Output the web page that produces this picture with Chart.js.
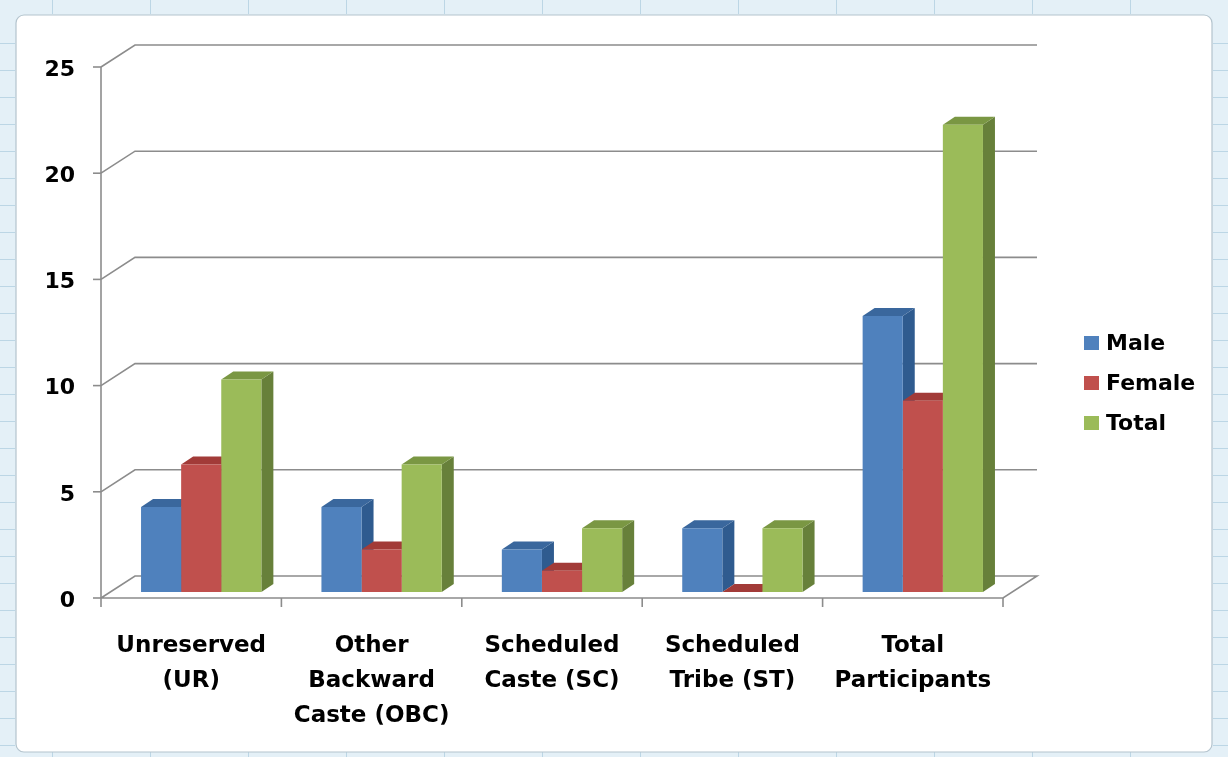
<!DOCTYPE html>
<html>
<head>
<meta charset="utf-8">
<script src="https://cdn.jsdelivr.net/npm/chart.js@4"></script>
<style>
    html, body { margin: 0; padding: 0; background: #e4f0f7; }
    #wrap { width: 1228px; height: 757px; }
</style>
</head>
<body>
<div id="wrap"><canvas id="casteChart" width="1228" height="757"></canvas></div>
<script>
// Datos del gráfico
const categories = [
    ['Unreserved', '(UR)'],
    ['Other', 'Backward', 'Caste (OBC)'],
    ['Scheduled', 'Caste (SC)'],
    ['Scheduled', 'Tribe (ST)'],
    ['Total', 'Participants']
];
const seriesNames = ['Male', 'Female', 'Total'];
const maleValues = [4, 4, 2, 3, 13];
const femaleValues = [6, 2, 1, 0, 9];
const totalValues = [10, 6, 3, 3, 22];
const yTicks = [0, 5, 10, 15, 20, 25];

(function () {
    // colores: cara frontal, lateral, superior
    const colors = [
        { front: '#4f81bd', side: '#2f5b8f', top: '#3a679d' },
        { front: '#c0504d', side: '#8e302d', top: '#a23b38' },
        { front: '#9bbb59', side: '#67803a', top: '#7a9743' }
    ];

    // desplazamientos de la perspectiva (plano de barras -> frente / fondo)
    const FRONT = { x: -10, y: 6 };
    const BACK = { x: 24, y: -16 };
    const BAR_DEPTH = { x: 12, y: -8 };
    const font = { family: 'DejaVu Sans', weight: 'bold', size: 22 };

    function poly(ctx, pts, fill) {
        ctx.beginPath();
        ctx.moveTo(pts[0][0], pts[0][1]);
        for (let i = 1; i < pts.length; i++) ctx.lineTo(pts[i][0], pts[i][1]);
        ctx.closePath();
        ctx.fillStyle = fill;
        ctx.fill();
    }

    const frame3d = {
        id: 'frame3d',
        beforeDraw(chart) {
            const ctx = chart.ctx;
            ctx.save();
            // fondo tipo hoja de cálculo
            ctx.fillStyle = '#e4f0f7';
            ctx.fillRect(0, 0, chart.width, chart.height);
            ctx.strokeStyle = '#bcd6e5';
            ctx.lineWidth = 1;
            for (let gx = 52; gx < chart.width; gx += 98) {
                ctx.beginPath(); ctx.moveTo(gx + 0.5, 0); ctx.lineTo(gx + 0.5, 14); ctx.stroke();
                ctx.beginPath(); ctx.moveTo(gx + 0.5, 752); ctx.lineTo(gx + 0.5, 757); ctx.stroke();
            }
            for (let gy = 43; gy < chart.height; gy += 27) {
                ctx.beginPath(); ctx.moveTo(0, gy + 0.5); ctx.lineTo(15, gy + 0.5); ctx.stroke();
                ctx.beginPath(); ctx.moveTo(1213, gy + 0.5); ctx.lineTo(1228, gy + 0.5); ctx.stroke();
            }
            // marco del gráfico
            ctx.beginPath();
            ctx.roundRect(16, 15, 1196, 737, 8);
            ctx.fillStyle = '#ffffff';
            ctx.fill();
            ctx.strokeStyle = '#b4c4ce';
            ctx.lineWidth = 1.2;
            ctx.stroke();
            ctx.restore();
        },
        beforeDatasetsDraw(chart) {
            const { ctx, chartArea: a, scales } = chart;
            const x = scales.x, y = scales.y;
            ctx.save();
            ctx.strokeStyle = '#8c8c8c';
            ctx.lineWidth = 1.6;

            // líneas de cuadrícula en la pared del fondo
            yTicks.forEach(v => {
                const py = y.getPixelForValue(v);
                const fx = a.left + FRONT.x, fy = py + FRONT.y;
                const bx = a.left + BACK.x, by = py + BACK.y;
                ctx.beginPath();
                ctx.moveTo(fx, fy);
                ctx.lineTo(bx, by);
                ctx.lineTo(a.right + BACK.x, by);
                if (v === 0) {
                    ctx.lineTo(a.right + FRONT.x, fy);
                    ctx.lineTo(fx, fy);
                }
                ctx.stroke();
                // marca del eje
                ctx.beginPath();
                ctx.moveTo(fx - 8, fy);
                ctx.lineTo(fx, fy);
                ctx.stroke();
            });

            // eje vertical frontal
            ctx.beginPath();
            ctx.moveTo(a.left + FRONT.x, y.getPixelForValue(yTicks[yTicks.length - 1]) + FRONT.y);
            ctx.lineTo(a.left + FRONT.x, y.getPixelForValue(0) + FRONT.y);
            ctx.stroke();

            // marcas entre categorías
            const baseY = y.getPixelForValue(0) + FRONT.y;
            for (let i = 0; i <= categories.length; i++) {
                const px = x.getPixelForValue(i - 0.5) + FRONT.x;
                ctx.beginPath();
                ctx.moveTo(px, baseY);
                ctx.lineTo(px, baseY + 9);
                ctx.stroke();
            }
            ctx.restore();

            // caras laterales y superiores de las barras
            ctx.save();
            for (let i = 0; i < categories.length; i++) {
                chart.data.datasets.forEach((ds, d) => {
                    const bar = chart.getDatasetMeta(d).data[i];
                    const l = bar.x - bar.width / 2, r = bar.x + bar.width / 2;
                    const t = bar.y, b = bar.base;
                    const c = colors[d];
                    poly(ctx, [[r, t], [r + BAR_DEPTH.x, t + BAR_DEPTH.y], [r + BAR_DEPTH.x, b + BAR_DEPTH.y], [r, b]], c.side);
                    poly(ctx, [[l, t], [r, t], [r + BAR_DEPTH.x, t + BAR_DEPTH.y], [l + BAR_DEPTH.x, t + BAR_DEPTH.y]], c.top);
                });
            }
            ctx.restore();
        },
        afterDraw(chart) {
            // leyenda
            const ctx = chart.ctx;
            ctx.save();
            ctx.font = `${font.weight} ${font.size}px "${font.family}"`;
            ctx.textBaseline = 'middle';
            ctx.fillStyle = '#000';
            chart.data.datasets.forEach((ds, d) => {
                const cy = 343 + d * 40;
                ctx.fillStyle = ds.backgroundColor;
                ctx.fillRect(1084, cy - 7, 15, 14);
                ctx.fillStyle = '#000';
                ctx.fillText(ds.label, 1106, cy + 1);
            });
            ctx.restore();
        }
    };

    const values = [maleValues, femaleValues, totalValues];

    new Chart(document.getElementById('casteChart'), {
        type: 'bar',
        data: {
            labels: categories,
            datasets: seriesNames.map((name, d) => ({
                label: name,
                data: values[d],
                backgroundColor: colors[d].front,
                borderWidth: 0,
                categoryPercentage: 0.667,
                barPercentage: 1.0
            }))
        },
        options: {
            responsive: false,
            animation: false,
            layout: { padding: { left: 0, right: 215, top: 61, bottom: 0 } },
            plugins: {
                legend: { display: false },
                tooltip: { enabled: false }
            },
            scales: {
                x: {
                    grid: { display: false },
                    border: { display: false },
                    ticks: {
                        font: { family: font.family, weight: font.weight, size: 23, lineHeight: 1.52 },
                        color: '#000',
                        padding: 29,
                        labelOffset: FRONT.x,
                        maxRotation: 0,
                        autoSkip: false
                    },
                    afterFit(s) {
                        s.height = 165;
                        s.paddingLeft = 0;
                        s.paddingRight = 0;
                    }
                },
                y: {
                    min: 0,
                    max: 25,
                    grid: { display: false },
                    border: { display: false },
                    ticks: {
                        font: font,
                        color: '#000',
                        padding: 28,
                        labelOffset: FRONT.y + 3
                    },
                    afterBuildTicks(s) {
                        s.ticks = yTicks.map(v => ({ value: v }));
                    },
                    afterFit(s) {
                        s.width = 111;
                        s.paddingTop = 0;
                        s.paddingBottom = 0;
                    }
                }
            }
        },
        plugins: [frame3d]
    });
})();
</script>
</body>
</html>
